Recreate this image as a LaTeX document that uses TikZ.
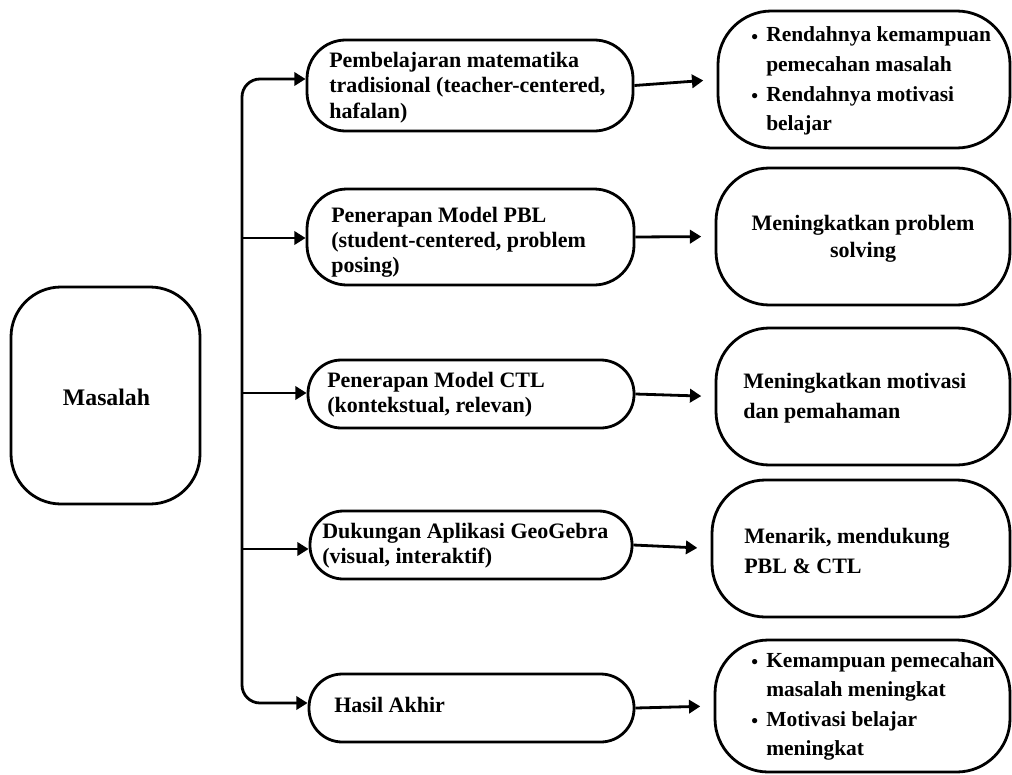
\documentclass[tikz,border=0pt]{standalone}
\usepackage{fontspec}
\usepackage{graphicx}
\setmainfont{Liberation Serif}
\usetikzlibrary{arrows.meta}
\newcommand{\tlines}[1]{\begin{tabular}[t]{@{}l@{}}#1\end{tabular}}
\newcommand{\clines}[1]{\begin{tabular}[t]{@{}c@{}}#1\end{tabular}}
\newcommand{\blines}[1]{\begin{tabular}[t]{@{}l@{}l@{}}#1\end{tabular}}
\newcommand{\bul}{\makebox[11.25pt][l]{\raisebox{-0.08em}{\scalebox{0.9}{\textbullet}}}}
\begin{document}
\begin{tikzpicture}[x=0.75pt,y=-0.75pt,
  box/.style={draw, line width=2.1pt, inner sep=0pt, rounded corners=#1},
  txt/.style={inner sep=0pt, anchor=base west, font=\bfseries\fontsize{16.5}{18.75}\selectfont},
  rtxt/.style={inner sep=0pt, anchor=base west, font=\bfseries\fontsize{16.1}{22.2}\selectfont},
  arr/.style={line width=2.1pt, -{Triangle[length=8.5pt,width=10pt]}}
]
\useasboundingbox (0,0) rectangle (1012,774);

% left box
\node[box=37.5pt, minimum width=189*0.75pt, minimum height=217*0.75pt] (m) at (105.5,395.5) {};
\node[txt, anchor=base, font=\bfseries\fontsize{17.8}{20}\selectfont] (tm) at (106.5,405) {Masalah};

% middle boxes
\node[box=29pt, minimum width=326*0.75pt, minimum height=91*0.75pt] (b1) at (470,85.5) {};
\node[box=30pt, minimum width=327*0.75pt, minimum height=96*0.75pt] (b2) at (470.5,237) {};
\node[box=25pt, minimum width=326*0.75pt, minimum height=68*0.75pt] (b3) at (471,394) {};
\node[box=25pt, minimum width=322*0.75pt, minimum height=68*0.75pt] (b4) at (471,545) {};
\node[box=25pt, minimum width=325*0.75pt, minimum height=68*0.75pt] (b5) at (471.5,708) {};

\node[txt] (t1) at (329,68) {\tlines{Pembelajaran matematika\\tradisional (teacher-centered,\\hafalan)}};
\node[txt] (t2) at (331,222) {\tlines{Penerapan Model PBL\\(student-centered, problem\\posing)}};
\node[txt] (t3) at (327,387) {\tlines{Penerapan Model CTL\\(kontekstual, relevan)}};
\node[txt] (t4) at (322,538) {\tlines{Dukungan Aplikasi GeoGebra\\(visual, interaktif)}};
\node[txt] (t5) at (334,712) {Hasil Akhir};

% right boxes
\node[box=40pt, minimum width=292*0.75pt, minimum height=137*0.75pt] (r1) at (864,79.5) {};
\node[box=40pt, minimum width=294*0.75pt, minimum height=137*0.75pt] (r2) at (863,236.5) {};
\node[box=40pt, minimum width=294*0.75pt, minimum height=137*0.75pt] (r3) at (863,396.5) {};
\node[box=40pt, minimum width=298*0.75pt, minimum height=137*0.75pt] (r4) at (861,548.5) {};
\node[box=40pt, minimum width=295*0.75pt, minimum height=132*0.75pt] (r5) at (862.5,706) {};

\node[rtxt] (u1) at (751,42) {\blines{\bul & Rendahnya kemampuan\\ & pemecahan masalah\\ \bul & Rendahnya motivasi\\ & belajar}};
\node[rtxt, anchor=base, font=\bfseries\fontsize{16.5}{20.25}\selectfont] (u2) at (863,230) {\clines{Meningkatkan problem\\solving}};
\node[rtxt, font=\bfseries\fontsize{16.5}{22.5}\selectfont] (u3) at (743,388) {\tlines{Meningkatkan motivasi\\dan pemahaman}};
\node[rtxt, font=\bfseries\fontsize{16.5}{22.5}\selectfont] (u4) at (744,543) {\tlines{Menarik, mendukung\\PBL \& CTL}};
\node[rtxt] (u5) at (751,667) {\blines{\bul & Kemampuan pemecahan\\ & masalah meningkat\\ \bul & Motivasi belajar\\ & meningkat}};

% trunk
\coordinate (tt) at (242,79);
\coordinate (tb) at (242,703);
\coordinate (k2) at (242,238);
\coordinate (k3) at (242,393);
\coordinate (k4) at (242,549);
\draw[line width=2.1pt, {Triangle[length=8.5pt,width=10pt]}-{Triangle[length=8.5pt,width=10pt]}, rounded corners=13.5pt]
  (b1.west |- tt) -- (tt) -- (tb) -- (b5.west |- tb);
\draw[arr] (k2) -- (b2.west |- k2);
\draw[arr] (k3) -- (b3.west |- k3);
\draw[arr] (k4) -- (b4.west |- k4);

% right arrows
\draw[arr, shorten >=10pt] (b1.east) -- (r1.west);
\draw[arr, shorten >=10pt] (b2.east) -- (r2.west);
\draw[arr, shorten >=10pt] (b3.east) -- (r3.west);
\draw[arr, shorten >=10pt] (b4.east) -- (r4.west);
\draw[arr, shorten >=10pt] (b5.east) -- (r5.west);
\end{tikzpicture}
\end{document}
